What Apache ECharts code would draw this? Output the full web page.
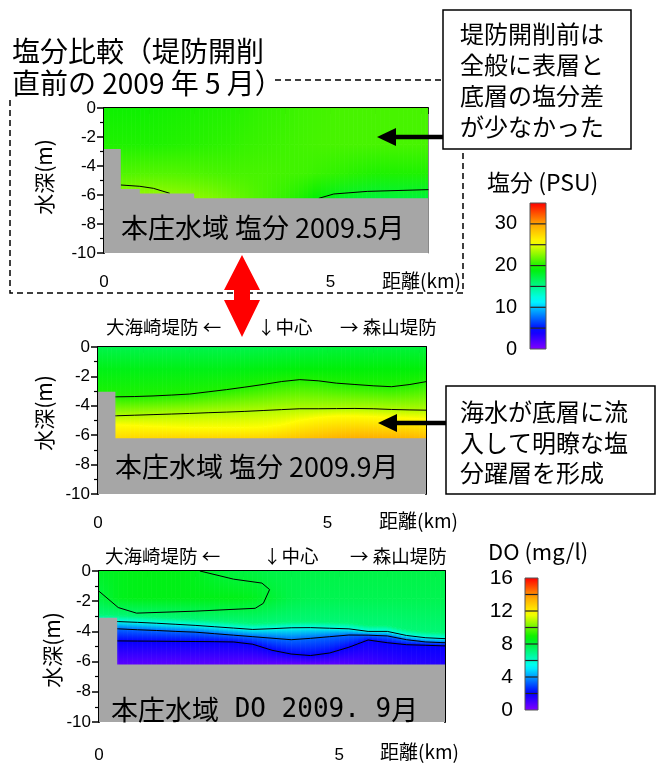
<!doctype html>
<html>
<head>
<meta charset="utf-8">
<title>塩分比較</title>
<script src="https://cdn.jsdelivr.net/npm/echarts@6/dist/echarts.min.js"></script>
<style>html,body{margin:0;background:#fff}#main{width:664px;height:764px}</style>
</head>
<body>
<div id="main"></div>
<script>
// stations along the section (km)
var xs = [0, 0.4, 0.8, 1.2, 1.6, 2.0, 2.4, 2.8, 3.2, 3.6, 4.0, 4.4, 4.8, 5.2, 5.6, 6.0, 6.4, 6.8, 7.2];

// panel 1 : salinity May 2009 (PSU)
var p1SurfaceSal = [19.6, 19.6, 19.6, 19.7, 19.8, 19.9, 20, 20.1, 20.3, 20.5, 20.6, 20.8, 20.9, 21, 21, 21, 21, 21, 21];
var p1Sal25 = [20, 20, 20, 20, 20.1, 20.2, 20.3, 20.4, 20.6, 20.7, 20.8, 20.9, 21, 21, 21, 21, 21, 21, 21];
var p1Sal45 = [21, 21.2, 21.3, 21.3, 21.3, 21.2, 21.1, 21, 21, 21, 20.9, 20.8, 20.6, 20.4, 20.2, 20, 20, 20, 20];
var p1BottomSal = [22.5, 23, 23.2, 23.2, 23, 22.8, 22.5, 22, 21.5, 21, 20.5, 19.8, 19, 18.2, 17.8, 17.5, 17.5, 17.5, 17.5];
var p1ContourA = [[0.37, -5.31], [0.79, -5.4], [1.09, -5.54], [1.45, -5.88]];
var p1ContourB = [[4.74, -6.23], [5.07, -5.93], [5.81, -5.75], [7.16, -5.63]];
var p1Bed = [[0, -2.83], [0.37, -2.83], [0.37, -5.59], [0.79, -5.59], [0.79, -5.9], [1.99, -5.9], [1.99, -6.23], [7.3, -6.23]];

// panel 2 : salinity Sep 2009 (PSU)
var p2SurfaceSal = [17, 17, 17, 17, 17, 17, 17, 17, 17, 17.1, 17.2, 17.3, 17.4, 17.5, 17.5, 17.5, 17.5, 17.5, 17.5];
var p2Sal15 = [18.6, 18.6, 18.6, 18.6, 18.6, 18.6, 18.6, 18.6, 18.7, 18.8, 18.9, 19, 19, 19, 19, 19, 19, 19, 19];
var p2Line1Depth = [-3.4, -3.39, -3.37, -3.33, -3.27, -3.2, -3.05, -2.9, -2.73, -2.55, -2.35, -2.22, -2.3, -2.46, -2.55, -2.64, -2.7, -2.55, -2.33];
var p2Line2Depth = [-4.7, -4.68, -4.64, -4.6, -4.56, -4.52, -4.47, -4.43, -4.38, -4.32, -4.26, -4.2, -4.2, -4.19, -4.18, -4.2, -4.25, -4.28, -4.3];
var p2YellowDepth = [-5.3, -5.3, -5.35, -5.4, -5.45, -5.5, -5.5, -5.5, -5.5, -5.45, -5.3, -5.0, -4.8, -4.7, -4.7, -4.75, -4.8, -4.85, -4.9];
var p2BottomSal = [27.5, 27.5, 27.6, 27.7, 27.8, 27.8, 27.8, 27.8, 27.8, 27.9, 28.2, 28.6, 29, 29.4, 29.6, 29.6, 29.5, 29.3, 29];
var p2Bed = [[0, -3.05], [0.38, -3.05], [0.38, -6.2], [7.3, -6.2]];

// panel 3 : DO Sep 2009 (mg/l)
var p3SurfaceDO = [8.3, 8.4, 8.5, 8.5, 8.5, 8.4, 8.1, 7.9, 7.9, 7.8, 7.8, 7.8, 7.8, 7.8, 7.8, 7.8, 7.8, 7.8, 7.8];
var p3DO18 = [7.9, 8.4, 8.5, 8.5, 8.5, 8.5, 8.5, 8.5, 8.4, 8.1, 7.8, 7.7, 7.7, 7.7, 7.7, 7.7, 7.7, 7.7, 7.7];
var p3GreenEdgeDepth = [-2.9, -2.95, -3.0, -3.06, -3.13, -3.2, -3.29, -3.38, -3.47, -3.42, -3.36, -3.35, -3.39, -3.43, -3.6, -3.6, -3.87, -4.02, -4.08];
var p3LineBDepth = [-3.3, -3.35, -3.4, -3.46, -3.53, -3.6, -3.69, -3.78, -3.87, -3.82, -3.76, -3.75, -3.79, -3.83, -4.0, -4.0, -4.27, -4.42, -4.48];
var p3LineCDepth = [-3.8, -3.83, -3.89, -3.94, -4.0, -4.05, -4.15, -4.25, -4.35, -4.45, -4.55, -4.46, -4.35, -4.24, -4.25, -4.3, -4.55, -4.7, -4.75];
var p3LineDDepth = [-4.62, -4.63, -4.64, -4.65, -4.66, -4.67, -4.68, -4.7, -4.85, -5.25, -5.5, -5.6, -5.43, -5.05, -4.57, -4.75, -4.88, -4.92, -4.96];
var p3BottomDO = [0.5, 0.5, 0.5, 0.5, 0.5, 0.5, 0.5, 0.5, 0.4, 0.3, 0.2, 0.2, 0.3, 0.6, 0.9, 1.1, 1.3, 1.4, 1.5];
var p3Loop = [[0, -1.34], [0.4, -2.42], [0.78, -2.79], [2.0, -2.66], [3.25, -2.47], [3.42, -2.14], [3.55, -1.23], [3.39, -0.8], [2.8, -0.54], [2.1, 0]];
var p3Bed = [[0, -3.1], [0.38, -3.1], [0.38, -6.2], [7.3, -6.2]];

// colour bar levels
var salLevels = [0, 5, 10, 15, 20, 25, 30, 35];
var doLevels = [0, 2, 4, 6, 8, 10, 12, 14, 16];

var CJK = '"Noto Sans CJK JP", sans-serif';
var LAT = '"Liberation Sans", Arial, sans-serif';
var MONO = '"DejaVu Sans Mono", monospace';
var GRAY = '#a6a6a6';

var cmapStops = [[0, [128, 0, 255]], [0.13, [0, 0, 255]], [0.33, [0, 255, 255]], [0.55, [0, 240, 0]], [0.73, [255, 255, 0]], [0.86, [255, 160, 0]], [1, [255, 0, 0]]];
function cmap(t) {
  t = Math.max(0, Math.min(1, t));
  for (var k = 1; k < cmapStops.length; k++) {
    if (t <= cmapStops[k][0]) {
      var a = cmapStops[k - 1], b = cmapStops[k];
      var f = (t - a[0]) / (b[0] - a[0]);
      return 'rgb(' + [0, 1, 2].map(function (c) { return Math.round(a[1][c] + (b[1][c] - a[1][c]) * f); }).join(',') + ')';
    }
  }
  return 'rgb(255,0,0)';
}
function lerp(a, b, f) { return a + (b - a) * f; }
function dep(r, i) { return typeof r.d === 'number' ? r.d : r.d[i]; }
function val(r, i) { return typeof r.v === 'number' ? r.v : r.v[i]; }

var p1Rows = [{d: 0, v: p1SurfaceSal}, {d: -2.5, v: p1Sal25}, {d: -4.5, v: p1Sal45}, {d: -6.3, v: p1BottomSal}];
var p2Rows = [{d: 0, v: p2SurfaceSal}, {d: -1.5, v: p2Sal15}, {d: p2Line1Depth, v: 20}, {d: p2Line2Depth, v: 23.6},
  {d: p2YellowDepth, v: 25.6}, {d: -6.3, v: p2BottomSal}];
var p3Rows = [{d: 0, v: p3SurfaceDO}, {d: -1.8, v: p3DO18}, {d: p3GreenEdgeDepth, v: 7.2}, {d: p3LineBDepth, v: 5.6},
  {d: p3LineCDepth, v: 3.4}, {d: p3LineDDepth, v: 2.0}, {d: -6.3, v: p3BottomDO}];

var SUB = 4;
function fieldRender(rows, vmax) {
  return function (params, api) {
    var i = params.dataIndex, kids = [];
    for (var s = 0; s < SUB; s++) {
      var f0 = s / SUB, f1 = (s + 1) / SUB, fm = (f0 + f1) / 2;
      var xa = lerp(xs[i], xs[i + 1], f0), xb = lerp(xs[i], xs[i + 1], f1);
      for (var j = 0; j < rows.length - 1; j++) {
        var r0 = rows[j], r1 = rows[j + 1];
        var pA = api.coord([xa, lerp(dep(r0, i), dep(r0, i + 1), f0)]);
        var pB = api.coord([xb, lerp(dep(r0, i), dep(r0, i + 1), f1)]);
        var pC = api.coord([xb, lerp(dep(r1, i), dep(r1, i + 1), f1)]);
        var pD = api.coord([xa, lerp(dep(r1, i), dep(r1, i + 1), f0)]);
        var vt = lerp(val(r0, i), val(r0, i + 1), fm), vb = lerp(val(r1, i), val(r1, i + 1), fm);
        var g = new echarts.graphic.LinearGradient(0, (pA[1] + pB[1]) / 2, 0, (pC[1] + pD[1]) / 2,
          [{offset: 0, color: cmap(vt / vmax)}, {offset: 1, color: cmap(vb / vmax)}], true);
        kids.push({type: 'polygon', shape: {points: [pA, pB, pC, pD]}, style: {fill: g, stroke: g, lineWidth: 0.8}});
      }
    }
    return {type: 'group', children: kids};
  };
}

function fieldSeries(k, rows, vmax) {
  return {
    type: 'custom', xAxisIndex: k, yAxisIndex: k, z: 1, clip: true, silent: true,
    data: xs.slice(1).map(function (x, i) { return [xs[i], x, -1]; }),
    encode: {x: [0, 1], y: 2},
    renderItem: fieldRender(rows, vmax)
  };
}
function contour(k, pts) {
  return {type: 'line', xAxisIndex: k, yAxisIndex: k, z: 2, data: pts, symbol: 'none', silent: true,
    lineStyle: {color: '#000', width: 1}};
}
function stationLine(k, depths) {
  return contour(k, xs.map(function (x, i) { return [x, depths[i]]; }));
}
function bed(k, pts) {
  return {type: 'line', xAxisIndex: k, yAxisIndex: k, z: 3, data: pts, symbol: 'none', silent: true,
    lineStyle: {width: 0}, areaStyle: {color: GRAY, opacity: 1, origin: 'start'}};
}
function colorBar(k, levels) {
  var vmax = levels[levels.length - 1];
  return {
    type: 'custom', xAxisIndex: k, yAxisIndex: k, silent: true,
    data: levels.slice(1).map(function (h, i) { return [0, levels[i], h]; }),
    encode: {x: 0, y: [1, 2]},
    renderItem: function (params, api) {
      var lo = levels[params.dataIndex], hi = levels[params.dataIndex + 1];
      var p0 = api.coord([0, lo]), p1 = api.coord([1, hi]);
      var stops = [];
      for (var s = 0; s <= 4; s++) stops.push({offset: s / 4, color: cmap(lerp(hi, lo, s / 4) / vmax)});
      var kids = [{type: 'rect', shape: {x: p0[0], y: p1[1], width: p1[0] - p0[0], height: p0[1] - p1[1]},
        style: {fill: new echarts.graphic.LinearGradient(0, p1[1], 0, p0[1], stops, true)}}];
      if (lo > 0) kids.push({type: 'line', shape: {x1: p0[0], y1: p0[1], x2: p1[0], y2: p0[1]}, style: {stroke: '#222', lineWidth: 1.2}});
      return {type: 'group', children: kids};
    }
  };
}

var grids = [
  {left: 104, top: 108, width: 324, height: 145},
  {left: 98, top: 347, width: 328, height: 147},
  {left: 99, top: 571, width: 346, height: 154},
  {left: 530, top: 203, width: 16, height: 146},
  {left: 525, top: 578, width: 13, height: 132}
];
var xMax = [7.15, 7.15, 7.2];
var xLabelMargin = [21, 21, 25];

var xAxes = [], yAxes = [];
[0, 1, 2].forEach(function (k) {
  xAxes.push({gridIndex: k, type: 'value', min: 0, max: xMax[k], interval: 1,
    axisLine: {lineStyle: {color: '#000', width: 2}},
    axisTick: {length: 6, lineStyle: {color: '#000', width: 1.5}},
    axisLabel: {margin: xLabelMargin[k], fontSize: 17, fontFamily: LAT, color: '#000',
      formatter: function (v) { return (v === 0 || v === 5) ? String(v) : ''; }},
    splitLine: {show: false}});
  yAxes.push({gridIndex: k, type: 'value', min: -10, max: 0, interval: 2,
    axisLine: {lineStyle: {color: '#000', width: 2}},
    axisTick: {length: 7, lineStyle: {color: '#000', width: 1.5}},
    minorTick: {show: true, splitNumber: 2, length: 4, lineStyle: {color: '#000', width: 1.2}},
    axisLabel: {margin: 8, fontSize: 17, fontFamily: LAT, color: '#000'},
    splitLine: {show: false}});
});
[[3, 35, 10, 13, 20], [4, 16, 4, 12, 21]].forEach(function (c) {
  xAxes.push({gridIndex: c[0], type: 'value', min: 0, max: 1, show: false});
  yAxes.push({gridIndex: c[0], type: 'value', min: 0, max: c[1], interval: c[2],
    axisLine: {show: false}, axisTick: {show: false}, splitLine: {show: false},
    axisLabel: {margin: c[3], fontSize: c[4], fontFamily: LAT, color: '#000', showMaxLabel: c[1] % c[2] === 0}});
});
// right-hand frame lines of the sections
[['#888', 1], ['#000', 2], ['#000', 2]].forEach(function (c, k) {
  yAxes.push({gridIndex: k, type: 'value', min: -10, max: 0, position: 'right',
    axisLine: {lineStyle: {color: c[0], width: c[1]}}, axisTick: {show: false}, axisLabel: {show: false}, splitLine: {show: false}});
});

var series = [
  fieldSeries(0, p1Rows, 35), contour(0, p1ContourA), contour(0, p1ContourB), bed(0, p1Bed),
  fieldSeries(1, p2Rows, 35), stationLine(1, p2Line1Depth), stationLine(1, p2Line2Depth), bed(1, p2Bed),
  fieldSeries(2, p3Rows, 16), contour(2, p3Loop), stationLine(2, p3LineBDepth), stationLine(2, p3LineCDepth),
  stationLine(2, p3LineDDepth), bed(2, p3Bed),
  colorBar(3, salLevels), colorBar(4, doLevels)
];

function T(text, x, y, size, extra) {
  var o = {type: 'text', x: x, y: y, z: 100, silent: true,
    style: {text: text, fontSize: size, fontFamily: CJK, fill: '#000', align: 'left', verticalAlign: 'middle'}};
  if (extra) { for (var key in extra) o.style[key] = extra[key]; }
  return o;
}
function vT(text, x, y) {
  var o = T(text, x, y, 21, {align: 'center'});
  o.rotation = Math.PI / 2;
  return o;
}
var dash = {stroke: '#000', lineWidth: 1.5, lineDash: [6, 4], fill: null};
var graphics = [
  {type: 'polyline', z: 90, shape: {points: [[275, 80], [443, 80]]}, style: dash},
  {type: 'polyline', z: 90, shape: {points: [[10, 100], [10, 293], [463, 293], [463, 149]]}, style: dash},
  T('塩分比較（堤防開削', 12, 51, 28),
  T('直前の 2009 年 5 月）', 12, 83, 28),
  {type: 'rect', z: 95, shape: {x: 443, y: 10, width: 188, height: 139}, style: {fill: '#fff', stroke: '#000', lineWidth: 1.5}},
  T('堤防開削前は', 460, 34, 24), T('全般に表層と', 460, 65, 24), T('底層の塩分差', 460, 96, 24), T('が少なかった', 460, 127, 24),
  {type: 'line', z: 96, shape: {x1: 443, y1: 137, x2: 392, y2: 137}, style: {stroke: '#000', lineWidth: 4.5}},
  {type: 'polygon', z: 96, shape: {points: [[377, 137], [396, 128], [396, 146]]}, style: {fill: '#000'}},
  {type: 'rect', z: 95, shape: {x: 446, y: 386, width: 209, height: 108}, style: {fill: '#fff', stroke: '#000', lineWidth: 1.5}},
  T('海水が底層に流', 460, 412, 24), T('入して明瞭な塩', 460, 443, 24), T('分躍層を形成', 460, 473, 24),
  {type: 'line', z: 96, shape: {x1: 446, y1: 423, x2: 392, y2: 423}, style: {stroke: '#000', lineWidth: 4.5}},
  {type: 'polygon', z: 96, shape: {points: [[378, 423], [397, 414], [397, 432]]}, style: {fill: '#000'}},
  {type: 'polygon', z: 97, shape: {points: [[242, 255], [260, 290], [250, 290], [250, 300], [260, 300], [242, 337],
    [224, 300], [234, 300], [234, 290], [224, 290]]}, style: {fill: '#ff0000'}},
  T('本庄水域 塩分 2009.5月', 121, 228, 27),
  T('本庄水域 塩分 2009.9月', 115, 467, 27),
  T('{a|本庄水域}{b| DO 2009. 9}{a|月}', 111, 710, 27, {rich: {
    a: {fontSize: 27, fontFamily: CJK}, b: {fontSize: 26, fontFamily: MONO}}}),
  T('距離(km)', 382, 281, 19), T('距離(km)', 379, 521, 19), T('距離(km)', 380, 752, 19),
  vT('水深(m)', 44, 177), vT('水深(m)', 44, 413), vT('水深(m)', 52, 650),
  T('大海崎堤防 ←', 106, 327, 18.5), T('↓中心', 257, 327, 18.5), T('→ 森山堤防', 340, 327, 18.5),
  T('大海崎堤防 ←', 105, 556, 18.5), T('↓中心', 263, 556, 18.5), T('→ 森山堤防', 350, 556, 18.5),
  T('塩分 (PSU)', 487, 182, 23),
  T('DO (mg/l)', 488, 552, 22),
  {type: 'rect', z: 90, shape: {x: 530, y: 203, width: 16, height: 146}, style: {fill: null, stroke: '#555', lineWidth: 1}},
  {type: 'rect', z: 90, shape: {x: 525, y: 578, width: 13, height: 132}, style: {fill: null, stroke: '#555', lineWidth: 1}}
];

var chart = echarts.init(document.getElementById('main'), null, {renderer: 'canvas'});
chart.setOption({
  backgroundColor: '#fff',
  animation: false,
  grid: grids,
  xAxis: xAxes,
  yAxis: yAxes,
  series: series,
  graphic: graphics
});
</script>
</body>
</html>
